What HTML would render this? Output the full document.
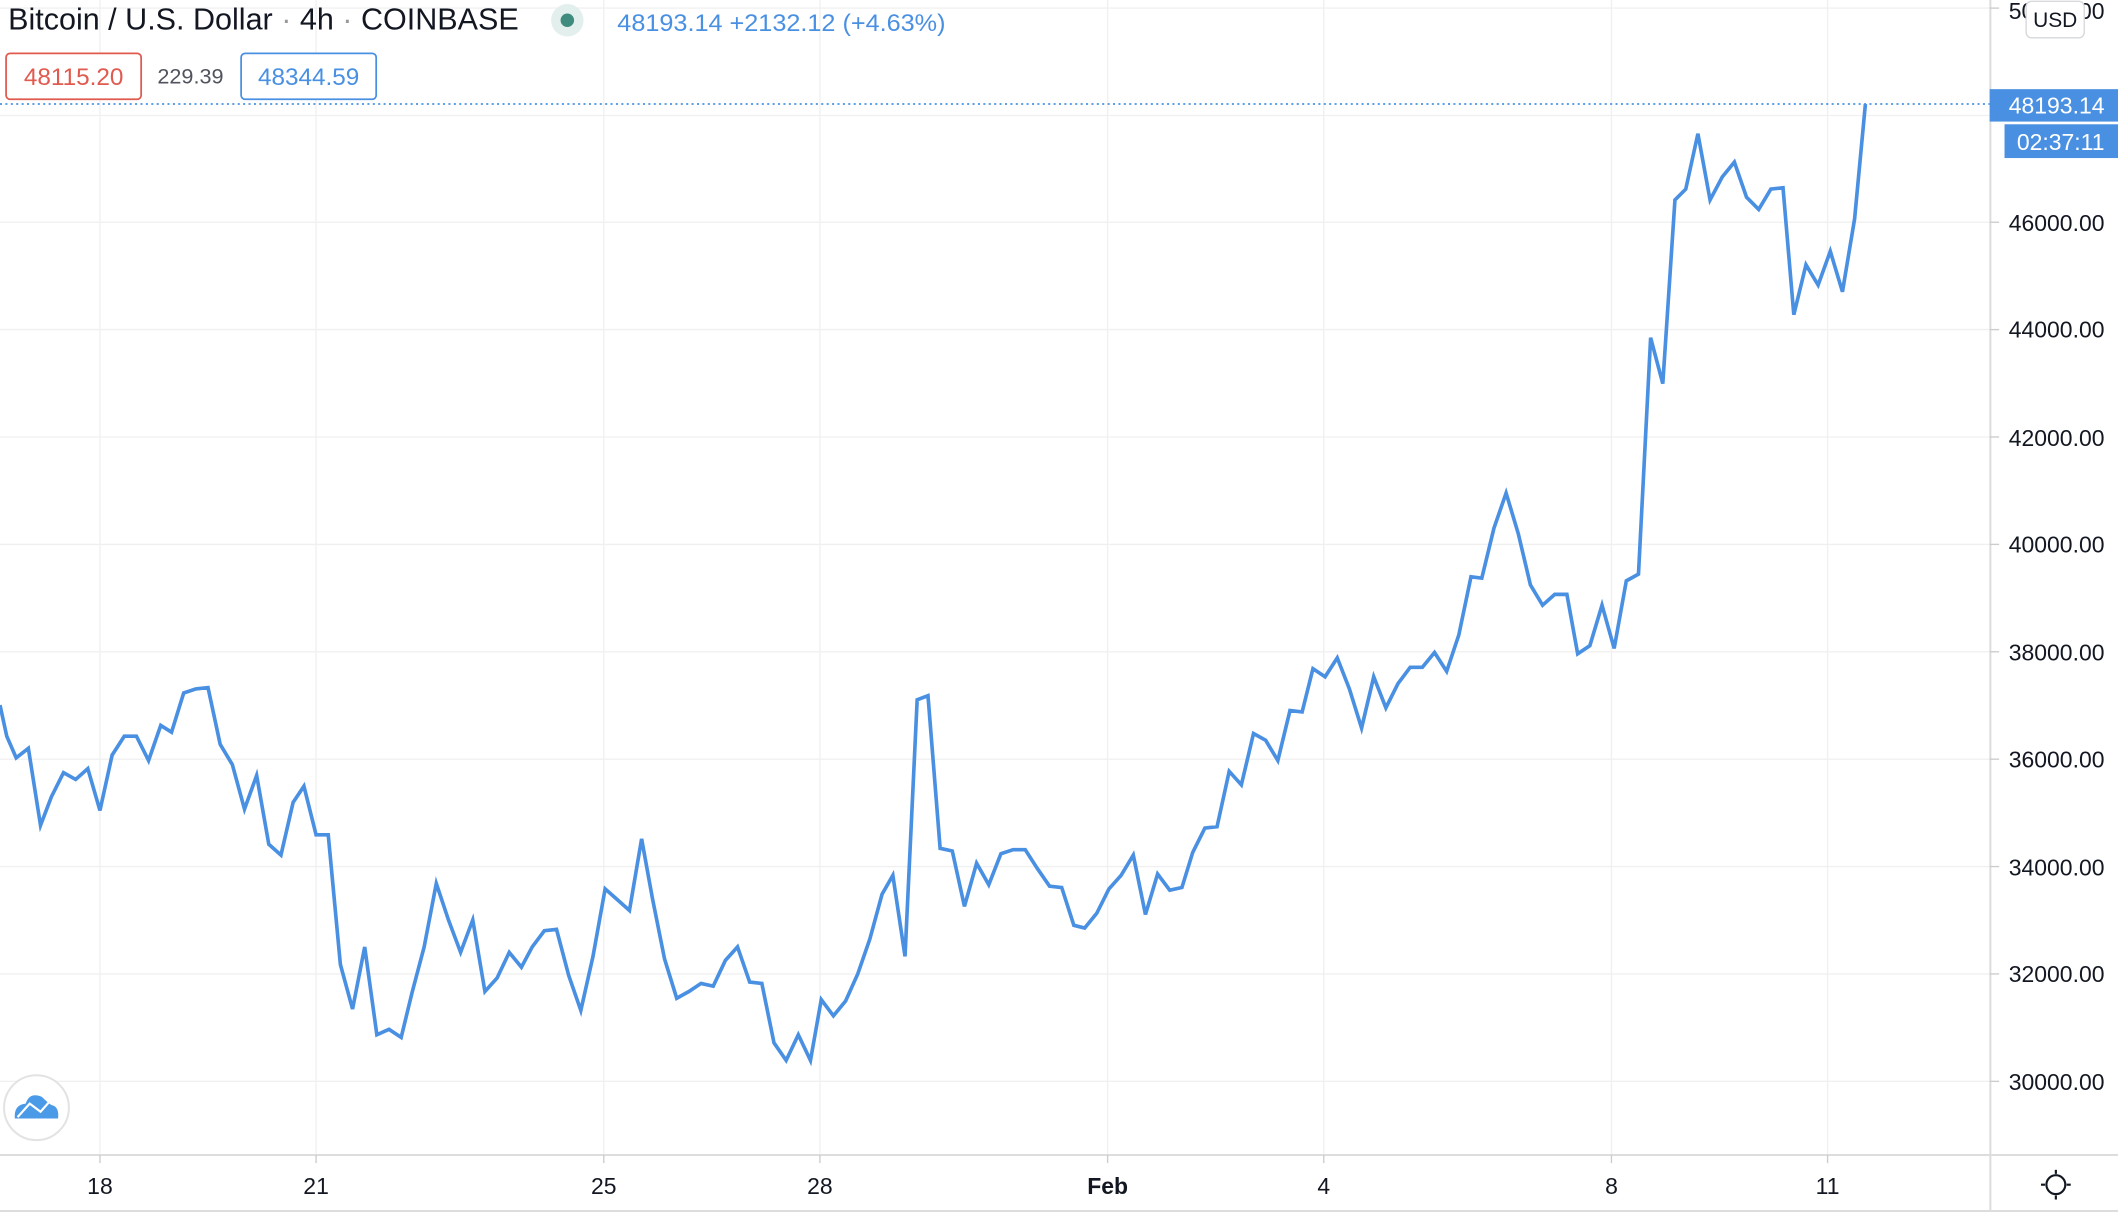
<!DOCTYPE html>
<html><head><meta charset="utf-8"><style>
html,body{margin:0;padding:0;background:#fff;}
svg{display:block;}
text{font-family:"Liberation Sans","DejaVu Sans",sans-serif;}
</style></head><body>
<svg width="2118" height="1214" viewBox="0 0 1568 898.7" preserveAspectRatio="none" xmlns="http://www.w3.org/2000/svg">
<rect x="0" y="0" width="1568" height="898.7" fill="#fff"/>
<g stroke="#f0f0f0" stroke-width="1">
<line x1="74" y1="0" x2="74" y2="855"/><line x1="234" y1="0" x2="234" y2="855"/>
<line x1="447" y1="0" x2="447" y2="855"/><line x1="607" y1="0" x2="607" y2="855"/>
<line x1="820" y1="0" x2="820" y2="855"/><line x1="980" y1="0" x2="980" y2="855"/>
<line x1="1193" y1="0" x2="1193" y2="855"/><line x1="1353" y1="0" x2="1353" y2="855"/>
<line x1="0" y1="6" x2="1473" y2="6"/><line x1="0" y1="85.5" x2="1473" y2="85.5"/>
<line x1="0" y1="164.5" x2="1473" y2="164.5"/><line x1="0" y1="244" x2="1473" y2="244"/>
<line x1="0" y1="323.5" x2="1473" y2="323.5"/><line x1="0" y1="403" x2="1473" y2="403"/>
<line x1="0" y1="482.5" x2="1473" y2="482.5"/><line x1="0" y1="562" x2="1473" y2="562"/>
<line x1="0" y1="641.5" x2="1473" y2="641.5"/><line x1="0" y1="721" x2="1473" y2="721"/>
<line x1="0" y1="800.5" x2="1473" y2="800.5"/>
</g>
<g stroke="#ddd" stroke-width="1.5">
<line x1="1473.5" y1="0" x2="1473.5" y2="897"/>
<line x1="0" y1="855" x2="1568" y2="855"/>
<line x1="0" y1="896.5" x2="1568" y2="896.5"/>
</g>
<g stroke="#ccc" stroke-width="1">
<line x1="74" y1="855" x2="74" y2="861"/><line x1="234" y1="855" x2="234" y2="861"/>
<line x1="447" y1="855" x2="447" y2="861"/><line x1="607" y1="855" x2="607" y2="861"/>
<line x1="820" y1="855" x2="820" y2="861"/><line x1="980" y1="855" x2="980" y2="861"/>
<line x1="1193" y1="855" x2="1193" y2="861"/><line x1="1353" y1="855" x2="1353" y2="861"/>
<line x1="1473" y1="164.5" x2="1480" y2="164.5"/><line x1="1473" y1="244" x2="1480" y2="244"/>
<line x1="1473" y1="323.5" x2="1480" y2="323.5"/><line x1="1473" y1="403" x2="1480" y2="403"/>
<line x1="1473" y1="482.5" x2="1480" y2="482.5"/><line x1="1473" y1="562" x2="1480" y2="562"/>
<line x1="1473" y1="641.5" x2="1480" y2="641.5"/><line x1="1473" y1="721" x2="1480" y2="721"/>
<line x1="1473" y1="800.5" x2="1480" y2="800.5"/><line x1="1473" y1="6" x2="1480" y2="6"/>
</g>
<line x1="0" y1="77" x2="1473" y2="77" stroke="#4a90e2" stroke-width="1.3" stroke-dasharray="1.5 2.5"/>
<polyline fill="none" stroke="#4a90e2" stroke-width="2.7" stroke-linejoin="miter" points="0,522 5,545 12,561 21,554 30,611 38,590 47,572 56,577 65,569 74,600 83,559 92,545 101,545 110,563 119,537 127,542 136,513 145,510 154,509 163,551 172,566 181,599 190,574 199,625 208,633 217,594 225,582 234,618 243,618 252,714 261,747 270,701 279,766 288,762 297,768 305,735 314,701 323,654 332,681 341,705 350,681 359,734 368,724 377,705 386,716 394,701 403,689 412,688 421,722 430,748 439,708 448,658 457,666 466,674 475,621 483,665 492,710 501,739 510,734 519,728 528,730 537,711 546,701 555,727 564,728 573,772 582,785 591,766 600,785 608,740 617,752 626,741 635,721 644,695 653,662 661,648 670,708 679,518 687,515 696,628 705,630 714,671 723,639 732,655 741,632 750,629 759,629 768,643 777,656 786,657 795,685 803,687 812,676 821,658 830,648 839,633 848,677 857,647 866,659 875,657 883,631 892,613 901,612 910,571 919,581 928,543 937,548 946,563 955,526 964,527 972,495 981,501 990,487 999,510 1008,539 1017,501 1026,524 1035,506 1044,494 1053,494 1062,483 1071,497 1080,470 1089,427 1097,428 1106,391 1115,365 1124,395 1133,433 1142,448 1151,440 1160,440 1168,484 1177,478 1186,448 1195,480 1204,430 1213,425 1222,250 1231,284 1240,148 1248,140 1257,99 1266,148 1275,131 1284,120 1293,146 1302,155 1311,140 1320,139 1328,233 1337,196 1346,211 1355,186 1364,216 1373,162 1381,77"/>
<g font-size="17" fill="#131722" text-anchor="end">
<text x="1558" y="14">50000.00</text>
<text x="1558" y="171">46000.00</text><text x="1558" y="250">44000.00</text>
<text x="1558" y="330">42000.00</text><text x="1558" y="409">40000.00</text>
<text x="1558" y="489">38000.00</text><text x="1558" y="568">36000.00</text>
<text x="1558" y="648">34000.00</text><text x="1558" y="727">32000.00</text>
<text x="1558" y="807">30000.00</text>
</g>
<rect x="1500" y="1" width="43" height="27" rx="4" fill="#fff" stroke="#d6d8dc" stroke-width="1"/>
<text x="1521.5" y="20" font-size="15.5" fill="#131722" text-anchor="middle">USD</text>
<rect x="1473" y="66" width="95" height="24" fill="#4a90e2"/>
<text x="1558" y="84" font-size="17" fill="#fff" text-anchor="end">48193.14</text>
<rect x="1484" y="92" width="84" height="25" fill="#4a90e2"/>
<text x="1558" y="111" font-size="17" fill="#fff" text-anchor="end">02:37:11</text>
<g font-size="17" fill="#131722" text-anchor="middle">
<text x="74" y="884">18</text><text x="234" y="884">21</text><text x="447" y="884">25</text>
<text x="607" y="884">28</text><text x="820" y="884" font-weight="bold">Feb</text>
<text x="980" y="884">4</text><text x="1193" y="884">8</text><text x="1353" y="884">11</text>
</g>
<g stroke="#131722" stroke-width="1.6" fill="none">
<circle cx="1522" cy="877" r="7"/>
<line x1="1522" y1="866" x2="1522" y2="869"/><line x1="1522" y1="885" x2="1522" y2="888"/>
<line x1="1511" y1="877" x2="1514" y2="877"/><line x1="1530" y1="877" x2="1533" y2="877"/>
</g>
<circle cx="27" cy="820" r="24" fill="#fff" stroke="#e3e3e3" stroke-width="1.5"/>
<path d="M11,828 Q10,818 19,817 Q22,808 31,812 Q35,816 38,818 Q44,819 43,828 Z" fill="#4a9ae8"/>
<polyline points="13,827 22,817 30,823 38,814" fill="none" stroke="#fff" stroke-width="1.6"/>
<text x="6" y="22" font-size="22.5" fill="#131722" textLength="378" lengthAdjust="spacingAndGlyphs">Bitcoin / U.S. Dollar <tspan fill="#999">·</tspan> 4h <tspan fill="#999">·</tspan> COINBASE</text>
<circle cx="420" cy="15" r="12" fill="#e3efed"/>
<circle cx="420" cy="15" r="5" fill="#3f8c7e"/>
<text x="457" y="23" font-size="17.5" fill="#4a90e2" textLength="243" lengthAdjust="spacingAndGlyphs">48193.14  +2132.12 (+4.63%)</text>
<rect x="4.5" y="39.5" width="100" height="34" rx="3" fill="#fff" stroke="#e05a4f" stroke-width="1.3"/>
<text x="54.5" y="63" font-size="18" fill="#e05a4f" text-anchor="middle">48115.20</text>
<text x="141" y="62" font-size="16" fill="#50535e" text-anchor="middle">229.39</text>
<rect x="178.5" y="39.5" width="100" height="34" rx="3" fill="#fff" stroke="#4a90e2" stroke-width="1.3"/>
<text x="228.5" y="63" font-size="18" fill="#4a90e2" text-anchor="middle">48344.59</text>
</svg>
</body></html>
